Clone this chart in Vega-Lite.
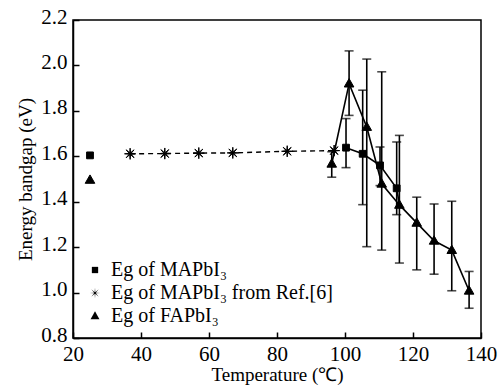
{
  "$schema": "https://vega.github.io/schema/vega-lite/v6.json",
  "width": 408,
  "height": 318,
  "autosize": {"type": "none"},
  "padding": {"left": 73, "top": 20, "right": 20, "bottom": 49},
  "background": "white",
  "config": {
    "font": "Liberation Serif",
    "view": {"stroke": "black", "strokeWidth": 1.5},
    "axis": {
      "grid": false,
      "labelFlush": false,
      "domainColor": "black",
      "domainWidth": 1.5,
      "tickColor": "black",
      "tickWidth": 1.5,
      "tickSize": -6,
      "labelColor": "black",
      "labelFont": "Liberation Serif",
      "labelFontSize": 21,
      "titleFont": "Liberation Serif",
      "titleFontSize": 19,
      "titleFontWeight": "normal",
      "titleColor": "black"
    },
    "legend": {
      "labelFont": "Liberation Serif",
      "labelFontSize": 20,
      "labelColor": "black"
    }
  },
  "data": {
    "values": [
      {"series": "MA", "t": 25, "eg": 1.604, "line": null},
      {"series": "FA", "t": 25, "eg": 1.496, "line": null},
      {"series": "REF", "t": 36.8, "eg": 1.611, "line": "REF"},
      {"series": "REF", "t": 47, "eg": 1.612, "line": "REF"},
      {"series": "REF", "t": 57, "eg": 1.614, "line": "REF"},
      {"series": "REF", "t": 67, "eg": 1.615, "line": "REF"},
      {"series": "REF", "t": 83, "eg": 1.622, "line": "REF"},
      {"series": "REF", "t": 96.8, "eg": 1.625, "line": "REF"},
      {"series": "MA", "t": 100.3, "eg": 1.638, "lo": 1.55, "hi": 1.766, "line": "MA"},
      {"series": "MA", "t": 105.2, "eg": 1.611, "lo": 1.387, "hi": 1.891, "line": "MA"},
      {"series": "MA", "t": 110.3, "eg": 1.56, "lo": 1.471, "hi": 1.641, "line": "MA"},
      {"series": "MA", "t": 115.2, "eg": 1.459, "lo": 1.343, "hi": 1.663, "line": "MA"},
      {"series": "MA", "t": 116, "eg": 1.386, "line": "MA", "lineOnly": true},
      {"series": "FA", "t": 96.1, "eg": 1.567, "lo": 1.508, "hi": 1.62, "line": "FA"},
      {"series": "FA", "t": 101.2, "eg": 1.92, "lo": 1.78, "hi": 2.064, "line": "FA"},
      {"series": "FA", "t": 106.4, "eg": 1.729, "lo": 1.202, "hi": 2.028, "line": "FA"},
      {"series": "FA", "t": 110.8, "eg": 1.479, "lo": 1.187, "hi": 1.972, "line": "FA"},
      {"series": "FA", "t": 116, "eg": 1.386, "lo": 1.13, "hi": 1.692, "line": "FA"},
      {"series": "FA", "t": 121.1, "eg": 1.307, "lo": 1.1, "hi": 1.42, "line": "FA"},
      {"series": "FA", "t": 126.2, "eg": 1.228, "lo": 1.081, "hi": 1.39, "line": "FA"},
      {"series": "FA", "t": 131.4, "eg": 1.187, "lo": 1.008, "hi": 1.402, "line": "FA"},
      {"series": "FA", "t": 136.5, "eg": 1.008, "lo": 0.931, "hi": 1.093, "line": "FA"}
    ]
  },
  "encoding": {
    "x": {
      "field": "t", "type": "quantitative",
      "scale": {"domain": [20, 140], "nice": false},
      "axis": {"values": [20, 40, 60, 80, 100, 120, 140], "title": "Temperature (℃)", "labelPadding": 11, "titlePadding": 1}
    },
    "y": {
      "field": "eg", "type": "quantitative",
      "scale": {"domain": [0.8, 2.2], "nice": false, "zero": false},
      "axis": {"values": [0.8, 1.0, 1.2, 1.4, 1.6, 1.8, 2.0, 2.2], "format": ".1f", "title": "Energy bandgap (eV)", "labelPadding": 12, "titlePadding": 5, "labelOffset": -3}
    }
  },
  "layer": [
    {
      "transform": [{"filter": "datum.line === 'MA' || datum.line === 'FA'"}],
      "mark": {"type": "line", "color": "black", "strokeWidth": 1.6},
      "encoding": {"detail": {"field": "line"}, "order": {"field": "t"}}
    },
    {
      "transform": [{"filter": "datum.line === 'REF'"}],
      "mark": {"type": "line", "color": "black", "strokeWidth": 1.4, "strokeDash": [5, 4]},
      "encoding": {"order": {"field": "t"}}
    },
    {
      "transform": [{"filter": "isValid(datum.lo)"}],
      "mark": {"type": "rule", "color": "black", "strokeWidth": 1.6},
      "encoding": {"y": {"field": "lo", "type": "quantitative"}, "y2": {"field": "hi"}}
    },
    {
      "transform": [{"filter": "isValid(datum.lo)"}],
      "mark": {"type": "tick", "orient": "horizontal", "color": "black", "size": 9, "thickness": 1.6},
      "encoding": {"y": {"field": "lo", "type": "quantitative"}}
    },
    {
      "transform": [{"filter": "isValid(datum.lo)"}],
      "mark": {"type": "tick", "orient": "horizontal", "color": "black", "size": 9, "thickness": 1.6},
      "encoding": {"y": {"field": "hi", "type": "quantitative"}}
    },
    {
      "transform": [{"filter": "datum.lineOnly !== true"}],
      "mark": {"type": "point", "filled": true, "color": "black", "stroke": "black", "strokeWidth": 1, "opacity": 1, "size": 64},
      "encoding": {
        "shape": {
          "field": "series", "type": "nominal",
          "scale": {
            "domain": ["MA", "REF", "FA"],
            "range": [
              "M-0.85,-0.85H0.85V0.85H-0.85Z",
              "M1.4,0L0.231,0.096L0.99,0.99L0.096,0.231L0,1.4L-0.096,0.231L-0.99,0.99L-0.231,0.096L-1.4,0L-0.231,-0.096L-0.99,-0.99L-0.096,-0.231L0,-1.4L0.096,-0.231L0.99,-0.99L0.231,-0.096Z",
              "M0,-1.25L1.2,0.85L-1.2,0.85Z"
            ]
          },
          "legend": {
            "title": null,
            "orient": "bottom-left",
            "offset": 12,
            "labelLimit": 0,
            "labelExpr": "datum.value === 'MA' ? 'Eg of MAPbI₃' : datum.value === 'REF' ? 'Eg of MAPbI₃ from Ref.[6]' : 'Eg of FAPbI₃'",
            "symbolFillColor": "black",
            "symbolStrokeColor": "black",
            "symbolStrokeWidth": 1,
            "symbolSize": 55,
            "rowPadding": 3,
            "labelOffset": 6
          }
        }
      }
    }
  ]
}
